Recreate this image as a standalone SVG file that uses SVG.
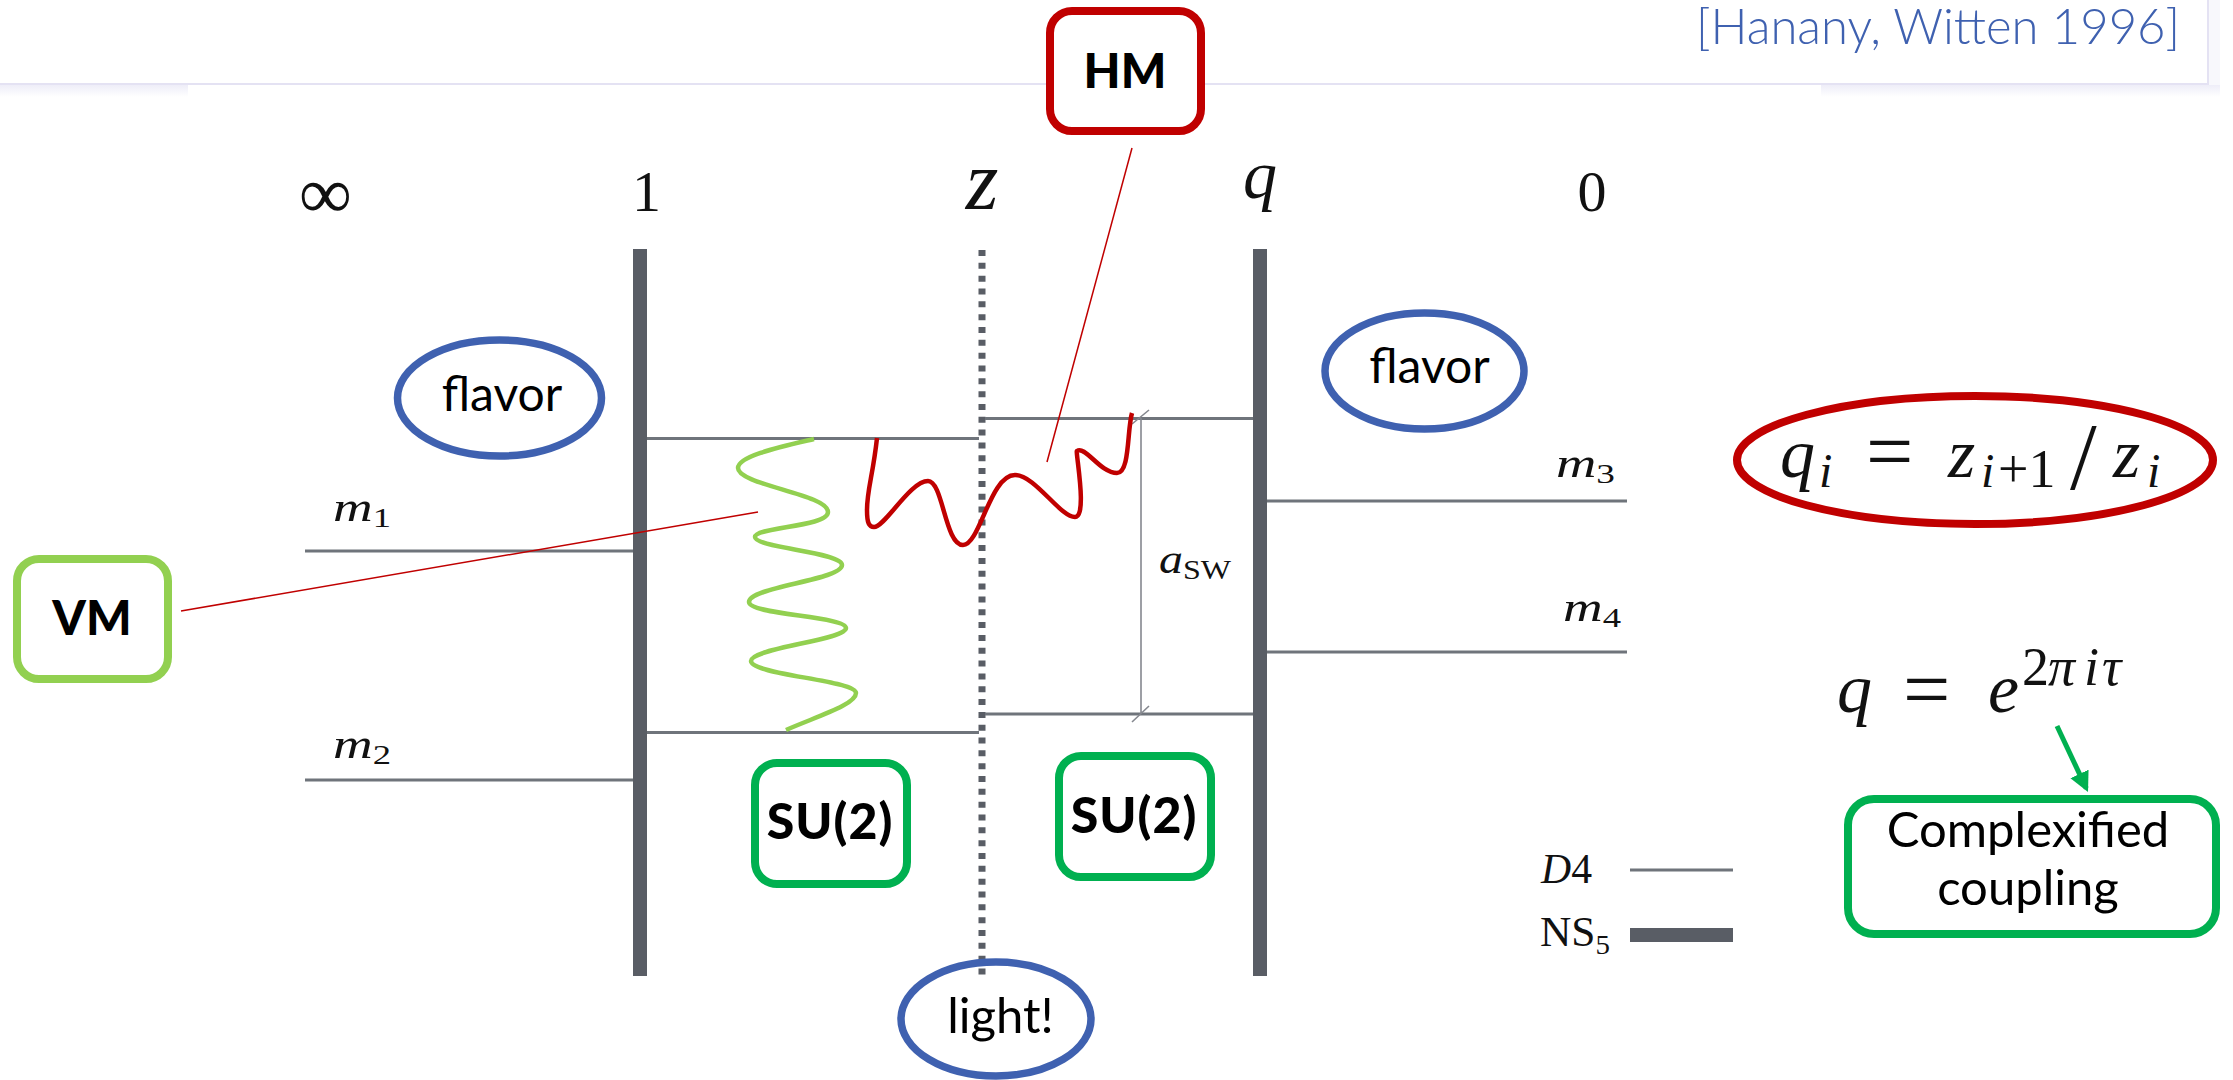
<svg xmlns="http://www.w3.org/2000/svg" width="2233" height="1080" viewBox="0 0 2233 1080">
<style>
.bar{fill:#595d65}
.d4{stroke:#6f747b;stroke-width:3;fill:none}
.thin{stroke:#85888f;stroke-width:1.6;fill:none}
.lead{stroke:#c00000;stroke-width:1.5;fill:none}
.box{fill:#fff;stroke-width:8}
.ring{fill:none;stroke:#3f61b0;stroke-width:7.500}
.tex{font-family:"Liberation Serif",serif;fill:#111}
.it{font-style:italic}
.up{font-style:normal}
.lbl{font-family:Lato,"Open Sans",sans-serif;font-weight:400;fill:#000;text-anchor:middle}
.bold{font-family:Lato,"Liberation Sans",sans-serif;font-weight:900;fill:#000;text-anchor:middle}
</style>
<defs>
<linearGradient id="sh" x1="0" y1="0" x2="0" y2="1"><stop offset="0" stop-color="#eeedf8"/><stop offset="1" stop-color="#fff"/></linearGradient>
<marker id="ga" markerUnits="userSpaceOnUse" markerWidth="22" markerHeight="22" refX="16" refY="10" orient="auto"><path d="M0,0 L20,10 L0,20 Z" fill="#00b050"/></marker>
</defs>
<rect width="2233" height="1080" fill="#fff"/>
<g id="header">
<rect x="0" y="85" width="188" height="12" fill="url(#sh)"/>
<rect x="1821" y="85" width="399" height="12" fill="url(#sh)"/>
<rect x="2209" y="0" width="11" height="85" fill="#f8f8fc"/>
<path d="M0,84 H2208 V0" fill="none" stroke="#e4e2f3" stroke-width="2"/>
<text x="1696" y="44" font-family="Lato,sans-serif" font-weight="300" font-size="49" fill="#3f61b0">[Hanany, Witten 1996]</text>
</g>
<g id="connectors">
<rect class="bar" x="633" y="249" width="14" height="727"/>
<rect class="bar" x="1253" y="249" width="14" height="727"/>
<line x1="982" y1="250" x2="982" y2="976" stroke="#595d65" stroke-width="7" stroke-dasharray="6 6.83"/>
<path class="d4" d="M647,438.500H979M647,732.500H979M985,418.500H1253M985,714H1253M305,551H633M305,780H633M1267,501H1627M1267,652H1627"/>
<path class="thin" d="M1141,418V714M1132,424L1149,410M1132,722L1149,706"/>
<path d="M814,439C780,447 738,456 738,468C738,485 828,494 828,512C828,527 755,527 755,537C755,548 842,552 842,565C842,580 749,587 749,602C749,615 846,616 846,628C846,640 751,648 751,661C751,675 856,680 856,693C856,705 815,717 786,730" fill="none" stroke="#92d050" stroke-width="4.500"/>
<path d="M877,438C873,475 867,490 867,510C867,523 869,527 874,527C885,527 910,481 928,481C943,481 945,545 963,545C980,545 990,475 1015,475C1035,475 1060,517 1075,517C1088,517 1075,450 1077,451C1085,445 1100,473 1117,473C1130,473 1127,430 1132,413" fill="none" stroke="#c00000" stroke-width="4.500"/>
<line class="lead" x1="1132" y1="148" x2="1047" y2="462"/>
<line class="lead" x1="181" y1="611" x2="758" y2="512"/>
<line x1="2057" y1="726" x2="2086.300" y2="788.400" stroke="#00b050" stroke-width="5" marker-end="url(#ga)"/>
<line class="d4" x1="1630" y1="870" x2="1733" y2="870"/>
<rect class="bar" x="1630" y="928" width="103" height="14"/>
</g>
<g id="axis-labels" class="tex">
<text x="325.500" y="218" text-anchor="middle" font-size="74">∞</text>
<text x="646.500" y="211" text-anchor="middle" font-size="58">1</text>
<text class="it" x="982" y="209" text-anchor="middle" font-size="84">z</text>
<text class="it" x="1260" y="198" text-anchor="middle" font-size="68">q</text>
<text x="1592" y="211" text-anchor="middle" font-size="58">0</text>
</g>
<g id="mass-labels" class="tex" font-size="42">
<text x="333" y="521" class="it" textLength="58" lengthAdjust="spacingAndGlyphs">m<tspan class="up" dy="6" font-size="28">1</tspan></text>
<text x="333" y="758" class="it" textLength="58" lengthAdjust="spacingAndGlyphs">m<tspan class="up" dy="6" font-size="28">2</tspan></text>
<text x="1556" y="477" class="it" textLength="59" lengthAdjust="spacingAndGlyphs">m<tspan class="up" dy="6" font-size="28">3</tspan></text>
<text x="1563" y="621" class="it" textLength="58" lengthAdjust="spacingAndGlyphs">m<tspan class="up" dy="6" font-size="28">4</tspan></text>
<text x="1159" y="573" class="it" textLength="72" lengthAdjust="spacingAndGlyphs">a<tspan class="up" dy="6" font-size="28">SW</tspan></text>
<text x="1541" y="883" class="it" textLength="51" lengthAdjust="spacingAndGlyphs">D<tspan class="up">4</tspan></text>
<text x="1540" y="946" textLength="70" lengthAdjust="spacingAndGlyphs">NS<tspan dy="8" font-size="28">5</tspan></text>
</g>
<g id="flavor-left"><ellipse class="ring" cx="499.500" cy="398" rx="102" ry="58"/><text class="lbl" x="502" y="411" font-size="48">flavor</text></g>
<g id="flavor-right"><ellipse class="ring" cx="1424.500" cy="371" rx="99.500" ry="58"/><text class="lbl" x="1429.500" y="383" font-size="48">flavor</text></g>
<g id="light"><ellipse class="ring" cx="996" cy="1019" rx="95" ry="57"/><text class="lbl" x="1000.500" y="1033" font-size="49">light!</text></g>
<g id="hm"><rect class="box" x="1050" y="11" width="151" height="120" rx="22" stroke="#c00000"/><text class="bold" x="1125" y="88" font-size="48">HM</text></g>
<g id="vm"><rect class="box" x="17" y="559" width="151" height="120" rx="22" stroke="#92d050"/><text class="bold" x="92" y="635" font-size="48">VM</text></g>
<g id="su2-left"><rect class="box" x="755" y="763" width="152" height="121" rx="22" stroke="#00b050"/><text class="bold" x="830" y="839" font-size="50" letter-spacing="1">SU(2)</text></g>
<g id="su2-right"><rect class="box" x="1059" y="756" width="152" height="121" rx="22" stroke="#00b050"/><text class="bold" x="1134" y="833" font-size="50" letter-spacing="1">SU(2)</text></g>
<g id="coupling"><rect class="box" x="1848" y="799" width="368" height="135" rx="26" stroke="#00b050"/><text class="lbl" x="2028" y="847" font-size="49">Complexified</text><text class="lbl" x="2028" y="905" font-size="49">coupling</text></g>
<g id="qi-formula"><ellipse class="ring" style="stroke:#c00000;stroke-width:8" cx="1975" cy="460" rx="238" ry="64"/>
<text class="tex" font-size="70"><tspan class="it" x="1780" y="477">q</tspan><tspan class="it" x="1819" y="487" font-size="48">i</tspan><tspan x="1866" y="480" font-size="84">=</tspan><tspan class="it" x="1948" y="477">z</tspan><tspan class="it" x="1981" y="487" font-size="48">i</tspan><tspan x="1998" y="487" font-size="54">+1</tspan><tspan class="up" x="2070" y="489" font-size="96">/</tspan><tspan class="it" x="2113" y="477">z</tspan><tspan class="it" x="2147" y="487" font-size="48">i</tspan></text></g>
<g id="q-formula"><text class="tex" font-size="70"><tspan class="it" x="1837" y="712">q</tspan><tspan x="1903" y="718" font-size="84">=</tspan><tspan class="it" x="1988" y="712">e</tspan><tspan x="2022" y="685" font-size="54">2</tspan><tspan class="it" x="2048" y="685" font-size="54">π</tspan><tspan class="it" x="2084" y="685" font-size="54">i</tspan><tspan class="it" x="2102" y="685" font-size="54">τ</tspan></text></g>
</svg>
